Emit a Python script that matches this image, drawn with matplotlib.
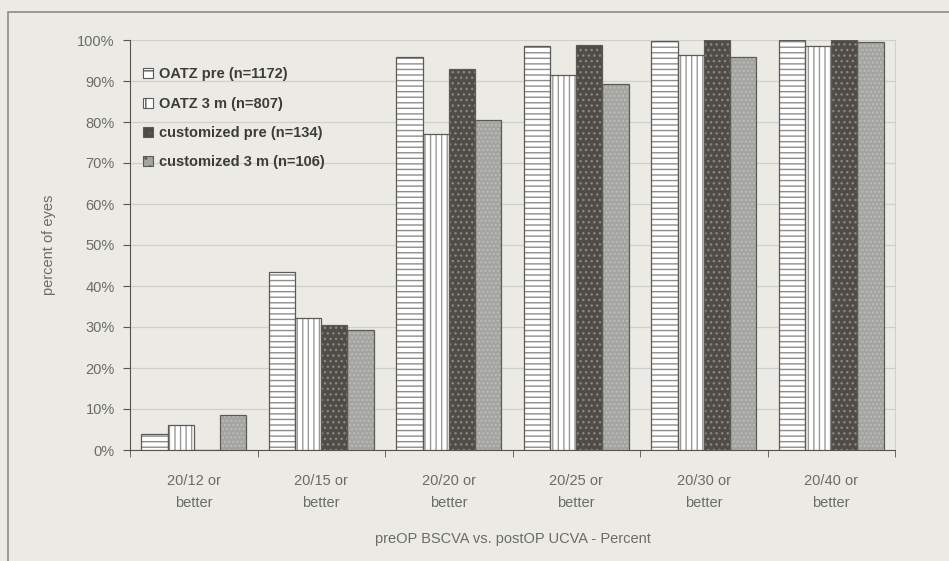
import matplotlib.pyplot as plt
import numpy as np
from matplotlib.patches import Rectangle, Patch

plt.rcParams['font.family'] = ['Liberation Sans', 'DejaVu Sans']

# Data
categories = ["20/12 or\nbetter", "20/15 or\nbetter", "20/20 or\nbetter",
              "20/25 or\nbetter", "20/30 or\nbetter", "20/40 or\nbetter"]
series_names = ["OATZ pre (n=1172)", "OATZ 3 m (n=807)",
                "customized pre (n=134)", "customized 3 m (n=106)"]
oatz_pre = [4.0, 43.3, 95.8, 98.5, 99.8, 100.0]
oatz_3m = [6.0, 32.3, 77.0, 91.5, 96.3, 98.6]
custom_pre = [0.0, 30.5, 93.0, 98.8, 100.0, 100.0]
custom_3m = [8.5, 29.3, 80.5, 89.3, 95.9, 99.5]

bg = "#ebeae5"
fig = plt.figure(figsize=(9.49, 5.61), dpi=100, facecolor=bg)

# outer frame of the chart
fig.patches.append(Rectangle((8 / 949, -0.01), 1.0, 1 - 12 / 561 + 0.01,
                             transform=fig.transFigure, fill=False,
                             edgecolor="#8c8c88", linewidth=1.2))

ax = fig.add_axes([130 / 949, 111 / 561, 765 / 949, 410 / 561])
ax.set_facecolor(bg)

styles = [
    dict(facecolor="white", hatch="---", hatchcol="#8d8d8a"),
    dict(facecolor="white", hatch="|||", hatchcol="#9a9a97"),
    dict(facecolor="#4f4c47", hatch="...", hatchcol="#8a8782"),
    dict(facecolor="#a4a4a1", hatch="....", hatchcol="#bcbcb8"),
]
all_series = [oatz_pre, oatz_3m, custom_pre, custom_3m]

x = np.arange(len(categories))
width = 0.205
handles = []
for i, (vals, st) in enumerate(zip(all_series, styles)):
    pos = x + (i - 1.5) * width
    ax.bar(pos, vals, width, facecolor=st["facecolor"], hatch=st["hatch"],
           edgecolor=st["hatchcol"], linewidth=0, zorder=3)
    ax.bar(pos, vals, width, fill=False, edgecolor="#5a5a57",
           linewidth=0.9, zorder=4)
    handles.append(Patch(facecolor=st["facecolor"], hatch=st["hatch"][:2],
                         edgecolor="#5a5a57", linewidth=0.8))

ax.set_xlim(-0.5, len(categories) - 0.5)
ax.set_ylim(0, 100)
ax.set_yticks(np.arange(0, 101, 10))
ax.set_yticklabels([f"{v}%" for v in range(0, 101, 10)])
ax.set_xticks(x)
ax.set_xticklabels(categories, linespacing=1.75)
ax.set_xticks(np.arange(-0.5, len(categories)), minor=True)
ax.tick_params(axis="x", which="major", length=0, pad=17)
ax.tick_params(axis="x", which="minor", length=5, direction="out",
               color="#55554f")
ax.tick_params(axis="y", length=5, direction="out", color="#55554f", pad=6)
ax.tick_params(labelsize=10.5, labelcolor="#6b6b68")

ax.grid(axis="y", color="#cfcfcb", linewidth=0.9, zorder=0)
ax.spines["top"].set_visible(False)
ax.spines["right"].set_color("#d0d0cc")
ax.spines["left"].set_color("#55554f")
ax.spines["bottom"].set_color("#55554f")

ax.set_ylabel("percent of eyes", fontsize=10.5, color="#6b6b68", labelpad=15)
ax.set_xlabel("preOP BSCVA vs. postOP UCVA - Percent", fontsize=10.5,
              color="#6b6b68", labelpad=16)

leg = ax.legend(handles, series_names, loc="upper left",
                bbox_to_anchor=(0.0, 0.965), frameon=False,
                handlelength=0.7, handleheight=0.7, handletextpad=0.4,
                labelspacing=1.05, prop=dict(weight="bold", size=10.5))
for t in leg.get_texts():
    t.set_color("#3c3c3a")

fig.savefig("out.png", dpi=100, facecolor=bg)
